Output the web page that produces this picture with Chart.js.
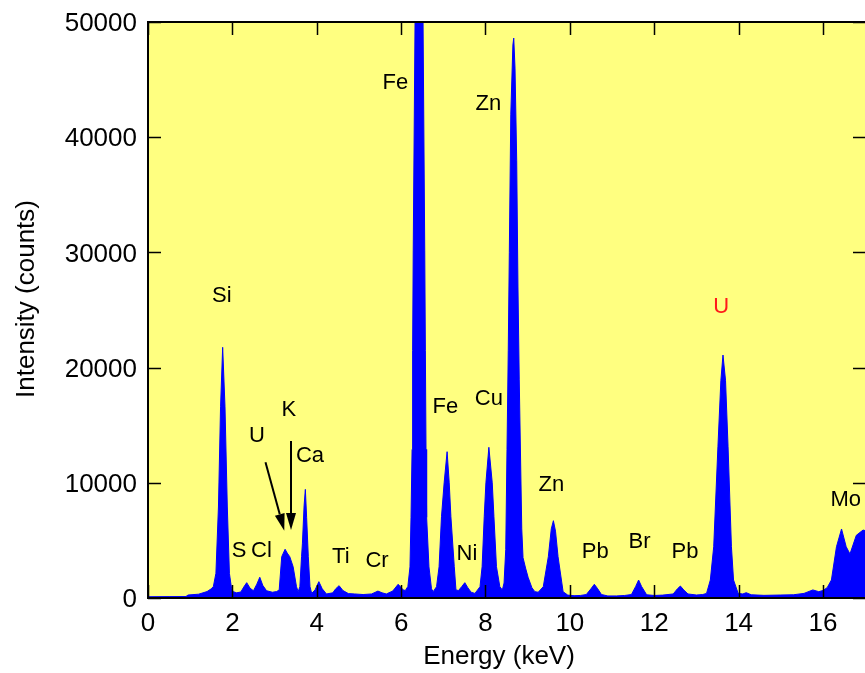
<!DOCTYPE html>
<html>
<head>
<meta charset="utf-8">
<script src="https://cdn.jsdelivr.net/npm/chart.js"></script>
<style>
  html, body { margin: 0; padding: 0; background: #fff; overflow: hidden; }
  canvas { display: block; }
</style>
</head>
<body>
<canvas id="spectrum" width="870" height="673"></canvas>
<script>
// Spectrum (energy in keV, intensity in counts)
const energy = [
  0.00, 0.50, 0.90, 0.95, 1.20, 1.40, 1.50, 1.55, 1.61, 1.67, 1.72, 1.77, 1.825, 1.88, 1.93, 1.98,
  2.02, 2.10, 2.20, 2.27, 2.34, 2.42, 2.50, 2.58, 2.65, 2.72, 2.81, 2.95, 3.05, 3.11, 3.17, 3.25,
  3.30, 3.36, 3.44, 3.52, 3.56, 3.60, 3.64, 3.66, 3.70, 3.73, 3.76, 3.80, 3.84, 3.88, 3.96, 4.05,
  4.13, 4.23, 4.38, 4.45, 4.53, 4.62, 4.75, 4.90, 5.10, 5.30, 5.45, 5.55, 5.65, 5.80, 5.93, 6.05,
  6.10, 6.16, 6.21, 6.235, 6.26, 6.273, 6.287, 6.33, 6.38, 6.42, 6.47, 6.52, 6.56, 6.575, 6.59, 6.605,
  6.66, 6.72, 6.76, 6.84, 6.90, 6.957, 7.02, 7.09, 7.14, 7.18, 7.26, 7.30, 7.36, 7.44, 7.51, 7.58,
  7.66, 7.75, 7.87, 7.92, 7.97, 8.01, 8.08, 8.16, 8.20, 8.26, 8.34, 8.40, 8.44, 8.48, 8.51, 8.54,
  8.565, 8.60, 8.65, 8.67, 8.70, 8.74, 8.77, 8.80, 8.83, 8.86, 8.89, 8.95, 9.01, 9.10, 9.17, 9.25,
  9.37, 9.49, 9.56, 9.61, 9.66, 9.72, 9.84, 9.95, 10.10, 10.25, 10.39, 10.50, 10.58, 10.66, 10.75, 10.90,
  11.10, 11.30, 11.46, 11.56, 11.63, 11.70, 11.82, 12.00, 12.20, 12.45, 12.55, 12.62, 12.70, 12.80, 13.00, 13.15,
  13.24, 13.33, 13.41, 13.51, 13.58, 13.63, 13.69, 13.75, 13.83, 13.88, 13.99, 14.10, 14.18, 14.30, 14.60, 15.00,
  15.30, 15.55, 15.76, 15.90, 16.00, 16.10, 16.20, 16.32, 16.44, 16.55, 16.64, 16.79, 16.95, 17.05
];
const counts = [
  110, 120, 130, 260, 330, 560, 800, 1000, 2140, 7900, 16600, 21760, 16600, 7900, 2140, 840,
  550, 450, 520, 950, 1330, 850, 630, 1200, 1800, 1100, 630, 500, 560, 700, 3590, 4230,
  3900, 3590, 2720, 980, 550, 980, 3590, 4700, 8000, 9430, 7000, 3590, 980, 400, 700, 1420,
  800, 350, 450, 800, 1070, 650, 380, 350, 300, 350, 600, 450, 350, 600, 1190, 700,
  650, 1000, 2700, 7000, 12900, 21500, 30200, 50000, 80000, 95000, 80000, 50000, 30200, 21500, 12900, 7000,
  2700, 800, 550, 980, 2720, 7060, 10000, 12700, 10000, 7060, 2720, 700, 650, 1000, 1330, 900,
  500, 400, 980, 2720, 7060, 10000, 13080, 10000, 7060, 2720, 980, 700, 1300, 4200, 12900, 21500,
  30000, 42000, 48000, 48600, 46000, 38000, 27000, 19000, 12500, 6000, 3500, 2600, 1800, 900, 550, 500,
  980, 3590, 6000, 6710, 5800, 3590, 550, 250, 200, 220, 300, 800, 1190, 800, 300, 180,
  180, 220, 300, 1000, 1560, 1000, 280, 220, 250, 350, 800, 1040, 700, 350, 260, 300,
  400, 1560, 4450, 13130, 18900, 21090, 18900, 13130, 4450, 1560, 400, 350, 460, 280, 230, 260,
  280, 400, 700, 550, 650, 900, 1560, 4450, 5990, 4450, 3820, 5440, 5900, 5800
];

// Axis ticks
const xTicks = [0, 2, 4, 6, 8, 10, 12, 14, 16];
const yTicks = [0, 10000, 20000, 30000, 40000, 50000];

// Peak labels: text, energy (keV), baseline height (counts), colour
const labelText = ['Fe', 'Zn', 'Si', 'U', 'K', 'U', 'Ca', 'Fe', 'Cu', 'Zn', 'S', 'Cl', 'Ti', 'Cr', 'Ni', 'Pb', 'Br', 'Pb', 'Mo'];
const labelE = [5.865, 8.07, 1.75, 13.59, 3.34, 2.58, 3.84, 7.05, 8.08, 9.56, 2.16, 2.69, 4.57, 5.43, 7.56, 10.60, 11.65, 12.73, 16.54];
const labelC = [44180, 42360, 25690, 24740, 15800, 13570, 11800, 16060, 16750, 9310, 3580, 3580, 3060, 2690, 3300, 3500, 4340, 3500, 8010];
const labelColor = ['#000', '#000', '#000', '#ff1a1a', '#000', '#000', '#000', '#000', '#000', '#000', '#000', '#000', '#000', '#000', '#000', '#000', '#000', '#000', '#000'];

// Arrows for the U / K lines: [fromE, fromC, toE, toC]
const arrows = [
  [2.785, 11780, 3.23, 5840],
  [3.39, 13630, 3.39, 5900]
];

const fontFam = 'Arial, "Liberation Sans", sans-serif';

const decor = {
  id: 'decor',
  beforeDraw(chart) {
    const { ctx, chartArea: a } = chart;
    ctx.save();
    ctx.fillStyle = '#ffff80';
    ctx.fillRect(a.left, a.top, a.right - a.left, a.bottom - a.top);
    ctx.restore();
  },
  afterDraw(chart) {
    const { ctx, chartArea: a } = chart;
    const xs = chart.scales.x, ys = chart.scales.y;
    ctx.save();

    // frame
    ctx.strokeStyle = '#000';
    ctx.lineWidth = 2;
    ctx.strokeRect(a.left, a.top, a.right - a.left, a.bottom - a.top);

    // inward ticks
    ctx.lineWidth = 1.5;
    ctx.beginPath();
    xTicks.forEach(v => {
      const px = Math.round(xs.getPixelForValue(v)) + 0.5;
      ctx.moveTo(px, a.bottom); ctx.lineTo(px, a.bottom - 13);
      ctx.moveTo(px, a.top); ctx.lineTo(px, a.top + 13);
    });
    yTicks.forEach(v => {
      const py = Math.round(ys.getPixelForValue(v)) + 0.5;
      ctx.moveTo(a.left, py); ctx.lineTo(a.left + 13, py);
      ctx.moveTo(a.right, py); ctx.lineTo(a.right - 13, py);
    });
    ctx.stroke();

    // peak labels
    ctx.font = '22px ' + fontFam;
    ctx.textAlign = 'center';
    ctx.textBaseline = 'alphabetic';
    labelText.forEach((t, i) => {
      ctx.fillStyle = labelColor[i];
      ctx.fillText(t, xs.getPixelForValue(labelE[i]), ys.getPixelForValue(labelC[i]));
    });

    // arrows
    ctx.fillStyle = '#000';
    ctx.strokeStyle = '#000';
    ctx.lineWidth = 2;
    arrows.forEach(ar => {
      const x1 = xs.getPixelForValue(ar[0]), y1 = ys.getPixelForValue(ar[1]);
      const x2 = xs.getPixelForValue(ar[2]), y2 = ys.getPixelForValue(ar[3]);
      const ang = Math.atan2(y2 - y1, x2 - x1);
      const hl = 17, hw = 5;
      const bx = x2 - hl * Math.cos(ang), by = y2 - hl * Math.sin(ang);
      ctx.beginPath();
      ctx.moveTo(x1, y1); ctx.lineTo(bx, by);
      ctx.stroke();
      ctx.beginPath();
      ctx.moveTo(x2, y2);
      ctx.lineTo(bx + hw * Math.sin(ang), by - hw * Math.cos(ang));
      ctx.lineTo(bx - hw * Math.sin(ang), by + hw * Math.cos(ang));
      ctx.closePath();
      ctx.fill();
    });

    // axis titles
    ctx.fillStyle = '#000';
    ctx.font = '26px ' + fontFam;
    ctx.textAlign = 'center';
    ctx.fillText('Energy (keV)', 499, 664);
    ctx.translate(34, 299);
    ctx.rotate(-Math.PI / 2);
    ctx.fillText('Intensity (counts)', 0, 0);
    ctx.restore();
  }
};

new Chart(document.getElementById('spectrum'), {
  type: 'line',
  data: {
    datasets: [{
      data: energy.map((e, i) => ({ x: e, y: counts[i] })),
      borderColor: '#0000ff',
      backgroundColor: '#0000ff',
      borderWidth: 1,
      pointRadius: 0,
      tension: 0,
      fill: 'origin'
    }]
  },
  options: {
    responsive: false,
    animation: false,
    devicePixelRatio: 1,
    layout: { padding: { top: 22, right: 4, left: 0, bottom: 0 } },
    plugins: { legend: { display: false }, tooltip: { enabled: false } },
    scales: {
      x: {
        type: 'linear',
        min: 0,
        max: 17.02,
        afterBuildTicks: s => { s.ticks = xTicks.map(v => ({ value: v })); },
        afterFit: s => { s.height = 75; s.paddingLeft = 0; s.paddingRight = 0; },
        grid: { display: false, drawTicks: false },
        border: { display: false },
        ticks: { color: '#000', font: { size: 26, family: fontFam }, padding: 10, maxRotation: 0, autoSkip: false }
      },
      y: {
        min: 0,
        max: 50000,
        afterBuildTicks: s => { s.ticks = yTicks.map(v => ({ value: v })); },
        afterFit: s => { s.width = 148; s.paddingTop = 0; s.paddingBottom = 0; },
        grid: { display: false, drawTicks: false },
        border: { display: false },
        ticks: { color: '#000', font: { size: 26, family: fontFam }, padding: 11, labelOffset: 2, callback: v => String(v) }
      }
    }
  },
  plugins: [decor]
});
</script>
</body>
</html>
